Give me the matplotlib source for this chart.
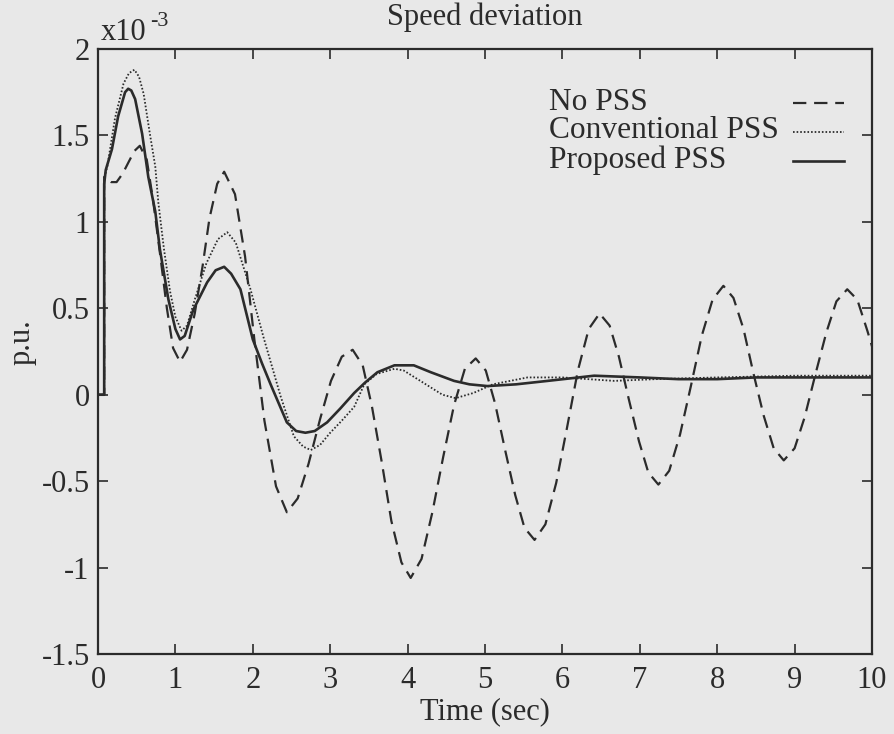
import matplotlib
matplotlib.use("Agg")
import matplotlib.pyplot as plt
from matplotlib.lines import Line2D

# ---- data (values in units of 1e-3 p.u.) ----
t_nopss = [0.00, 0.08, 0.08, 0.11, 0.17, 0.24, 0.32, 0.40, 0.47, 0.54, 0.63, 0.71, 0.80, 0.89, 0.97, 1.06,
           1.15, 1.25, 1.35, 1.44, 1.54, 1.63, 1.77, 1.90, 2.02, 2.15, 2.30, 2.44, 2.58, 2.72, 2.87, 3.01,
           3.15, 3.29, 3.42, 3.54, 3.67, 3.79, 3.92, 4.04, 4.18, 4.32, 4.46, 4.60, 4.74, 4.88, 5.01, 5.13,
           5.26, 5.39, 5.51, 5.64, 5.78, 5.92, 6.06, 6.20, 6.34, 6.48, 6.61, 6.73, 6.86, 6.99, 7.11, 7.24,
           7.38, 7.52, 7.66, 7.80, 7.94, 8.08, 8.21, 8.34, 8.47, 8.60, 8.73, 8.86, 9.00, 9.13, 9.27, 9.41,
           9.54, 9.68, 9.81, 9.94, 10.00]
v_nopss = [0.00, 0.00, 1.26, 1.25, 1.23, 1.23, 1.28, 1.35, 1.41, 1.44, 1.36, 1.13, 0.82, 0.50, 0.27, 0.19,
           0.26, 0.47, 0.74, 1.02, 1.22, 1.29, 1.16, 0.80, 0.32, -0.15, -0.53, -0.68, -0.60, -0.40, -0.14, 0.08,
           0.22, 0.26, 0.17, -0.07, -0.40, -0.73, -0.97, -1.06, -0.95, -0.68, -0.36, -0.06, 0.15, 0.21, 0.14, -0.05,
           -0.32, -0.58, -0.77, -0.84, -0.75, -0.51, -0.19, 0.14, 0.38, 0.47, 0.40, 0.22, -0.03, -0.27, -0.45, -0.52,
           -0.44, -0.23, 0.05, 0.34, 0.55, 0.63, 0.56, 0.38, 0.12, -0.12, -0.31, -0.38, -0.31, -0.13, 0.12, 0.36,
           0.54, 0.61, 0.55, 0.37, 0.28]

t_conv = [0.00, 0.08, 0.08, 0.12, 0.22, 0.33, 0.40, 0.47, 0.53, 0.59, 0.67, 0.74, 0.78, 0.85, 0.93, 1.00,
          1.08, 1.15, 1.25, 1.40, 1.55, 1.67, 1.78, 1.97, 2.14, 2.36, 2.53, 2.65, 2.75, 2.87, 3.00, 3.15,
          3.31, 3.44, 3.60, 3.83, 3.95, 4.20, 4.45, 4.62, 4.85, 5.10, 5.55, 6.00, 6.67, 7.20, 8.00, 9.00, 10.00]
v_conv = [0.00, 0.00, 1.25, 1.32, 1.60, 1.80, 1.86, 1.88, 1.84, 1.74, 1.51, 1.32, 1.11, 0.85, 0.60, 0.45,
          0.37, 0.40, 0.55, 0.76, 0.90, 0.94, 0.88, 0.61, 0.33, -0.01, -0.24, -0.30, -0.32, -0.29, -0.22, -0.15,
          -0.07, 0.06, 0.12, 0.15, 0.14, 0.07, 0.00, -0.02, 0.01, 0.06, 0.10, 0.10, 0.08, 0.09, 0.10, 0.11, 0.11]

t_prop = [0.00, 0.08, 0.08, 0.10, 0.18, 0.26, 0.35, 0.39, 0.43, 0.48, 0.57, 0.65, 0.74, 0.80, 0.91, 1.00,
          1.06, 1.12, 1.23, 1.41, 1.52, 1.63, 1.72, 1.84, 2.00, 2.12, 2.23, 2.44, 2.56, 2.68, 2.80, 2.96,
          3.13, 3.31, 3.45, 3.61, 3.83, 4.08, 4.30, 4.60, 4.80, 5.03, 5.40, 5.81, 6.41, 7.00, 7.50, 8.00, 8.50, 10.00]
v_prop = [0.00, 0.00, 1.22, 1.30, 1.42, 1.61, 1.75, 1.77, 1.76, 1.71, 1.51, 1.26, 1.06, 0.84, 0.55, 0.38,
          0.32, 0.34, 0.49, 0.65, 0.72, 0.74, 0.70, 0.61, 0.32, 0.18, 0.06, -0.16, -0.21, -0.22, -0.21, -0.16,
          -0.08, 0.01, 0.07, 0.13, 0.17, 0.17, 0.13, 0.08, 0.06, 0.05, 0.06, 0.08, 0.11, 0.10, 0.09, 0.09, 0.10, 0.10]

labels = ["No PSS", "Conventional PSS", "Proposed PSS"]
xticks = list(range(0, 11))
yticks = [-1.5, -1, -0.5, 0, 0.5, 1, 1.5, 2]
yticklabels = ["-1.5", "-1", "-0.5", "0", "0.5", "1", "1.5", "2"]

# ---- style ----
bg = "#e8e8e8"
ink = "#2b2b2b"
plt.rcParams["font.family"] = ["Liberation Serif", "DejaVu Serif"]
fs = 22

fig = plt.figure(figsize=(8.94, 7.34), dpi=100, facecolor=bg)
ax = fig.add_axes([98/894, 1-654/734, (872-98)/894, (654-49)/734])
ax.set_facecolor(bg)

styles = [dict(lw=1.6, dashes=(6, 3.5)),
          dict(lw=1.3, dashes=(0.9, 1.1)),
          dict(lw=1.9)]
series = [(t_nopss, v_nopss), (t_conv, v_conv), (t_prop, v_prop)]
for (t, v), st, lab in zip(series, styles, labels):
    ax.plot(t, v, color=ink, label=lab, **st)

ax.set_xlim(0, 10)
ax.set_ylim(-1.5, 2)
ax.set_xticks(xticks)
ax.set_yticks(yticks)
ax.set_yticklabels(yticklabels)
ax.tick_params(direction="in", top=True, right=True, length=7, width=1.2, colors=ink,
               labelsize=fs)
ax.tick_params(axis="x", pad=9)
ax.tick_params(axis="y", pad=6)
for s in ax.spines.values():
    s.set_color(ink)
    s.set_linewidth(1.6)

fig.text(485/894, 1-712/734, "Time (sec)", fontsize=fs, color=ink, ha="center", va="center")
fig.text(22/894, 1-342/734, "p.u.", fontsize=fs, color=ink, ha="center", va="center", rotation=90)
fig.text(485/894, 1-17/734, "Speed deviation", fontsize=fs, color=ink, ha="center", va="center")
fig.text(101/894, 1-33/734, "x10", fontsize=fs, color=ink, ha="left", va="center")
fig.text(150/894, 1-22/734, "-3", fontsize=16, color=ink, ha="left", va="center")

# legend (gnuplot style: text left, sample right)
row_y = [102, 131, 160]
for lab, st, y in zip(labels, styles, row_y):
    fig.text(549/894, 1-y/734, lab, fontsize=22.6, color=ink, ha="left", va="center")
    fig.add_artist(Line2D([793/894, 844/894], [1-(y+1)/734, 1-(y+1)/734],
                          transform=fig.transFigure, color=ink, **st))

fig.savefig("out.png", dpi=100, facecolor=bg)
